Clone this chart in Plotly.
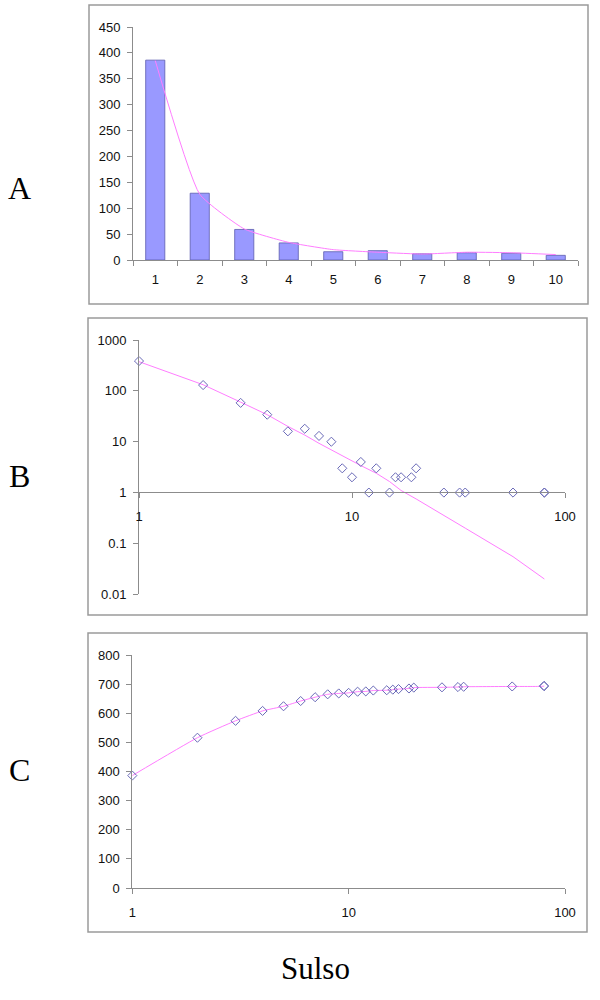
import plotly.graph_objects as go

# ---------------- data ----------------
A_categories = ["1", "2", "3", "4", "5", "6", "7", "8", "9", "10"]
A_counts = [386, 129, 59, 33, 16, 18, 12, 14, 13, 9]
A_trend = [385, 127, 60, 34, 20, 15, 11.5, 15, 14, 10.5]

B_x = [1, 2, 3, 4, 5, 6, 7, 8, 9, 10, 11, 12, 13, 15, 16, 17, 19, 20, 27, 32, 34, 57, 80, 80]
B_y = [386, 130, 58, 34, 16, 18, 13, 10, 3, 2, 4, 1, 3, 1, 2, 2, 2, 3, 1, 1, 1, 1, 1, 1]

B_fit_x = [1, 2, 3, 4, 5, 6, 7, 8, 10, 11, 13, 15, 17, 20, 27, 34, 57, 80]
B_fit_y = [375, 132, 60, 34, 20, 13.5, 9.3, 7, 4.2, 3.4, 2.4, 1.65, 1.1, 0.75, 0.35, 0.2, 0.055, 0.02]

C_x = [1, 2, 3, 4, 5, 6, 7, 8, 9, 10, 11, 12, 13, 15, 16, 17, 19, 20, 27, 32, 34, 57, 80, 80]
C_y = [386, 516, 574, 608, 624, 642, 655, 665, 668, 670, 674, 675, 678, 679, 681, 683, 685, 688,
       689, 690, 691, 692, 693, 694]

B_ticks = [0.01, 0.1, 1, 10, 100, 1000]
B_ticktext = ["0.01", "0.1", "1", "10", "100", "1000"]
X_log_ticks = [1, 10, 100]
panel_letters = ["A", "B", "C"]
x_title = "Sulso"

# ---------------- styles ----------------
BAR = "#9999ff"
BAR_LINE = "#5c5cae"
PINK = "#ff7dff"
MARK = "#6a6ab8"
AXIS = "#8c8c8c"
TICKFONT = dict(family="Liberation Sans, Arial, sans-serif", size=13, color="#111")

W, H = 600, 1000


def px(x):
    return x / W


def py(y):
    return 1 - y / H


fig = go.Figure()

# Panel A
fig.add_trace(go.Bar(x=A_categories, y=A_counts, marker=dict(color=BAR, line=dict(color=BAR_LINE, width=0.8)),
                     xaxis="x", yaxis="y", showlegend=False))
fig.add_trace(go.Scatter(x=A_categories, y=A_trend, mode="lines",
                         line=dict(color=PINK, width=1, shape="spline", smoothing=0.45),
                         xaxis="x", yaxis="y", showlegend=False))

# Panel B
fig.add_trace(go.Scatter(x=B_fit_x, y=B_fit_y, mode="lines", line=dict(color=PINK, width=1),
                         xaxis="x2", yaxis="y2", showlegend=False))
fig.add_trace(go.Scatter(x=B_x, y=B_y, mode="markers",
                         marker=dict(symbol="diamond-open", size=7, color=MARK, line=dict(width=1)),
                         xaxis="x2", yaxis="y2", showlegend=False, cliponaxis=False))

# Panel C
fig.add_trace(go.Scatter(x=C_x, y=C_y, mode="lines+markers",
                         line=dict(color=PINK, width=1, shape="spline", smoothing=0.5),
                         marker=dict(symbol="diamond-open", size=7, color=MARK, line=dict(width=1)),
                         xaxis="x3", yaxis="y3", showlegend=False, cliponaxis=False))

common = dict(showgrid=False, zeroline=False, showline=True, linecolor=AXIS, linewidth=1,
              ticks="outside", ticklen=5, tickcolor=AXIS, tickfont=TICKFONT, automargin=False)

fig.update_layout(
    width=W, height=H,
    margin=dict(l=0, r=0, t=0, b=0, pad=0, autoexpand=False),
    paper_bgcolor="white", plot_bgcolor="white",
    bargap=0.57,
    showlegend=False,
    xaxis=dict(domain=[px(133), px(578)], anchor="y", type="category", tickson="boundaries",
               ticklabelstandoff=7, **common),
    yaxis=dict(domain=[py(260), py(27)], anchor="x", range=[0, 450], dtick=50,
               ticklabelstandoff=4, **common),
    xaxis2=dict(domain=[px(139), px(565)], anchor="free", position=py(492.3), type="log",
                range=[0, 2], tickvals=X_log_ticks, ticktext=["1", "10", "100"],
                ticklabelstandoff=7, **common),
    yaxis2=dict(domain=[py(594.3), py(340)], anchor="x2", type="log", range=[-2, 3],
                tickvals=B_ticks, ticktext=B_ticktext, ticklabelstandoff=4, **common),
    xaxis3=dict(domain=[px(132.3), px(565)], anchor="y3", type="log", range=[0, 2],
                tickvals=X_log_ticks, ticktext=["1", "10", "100"], ticklabelstandoff=7, **common),
    yaxis3=dict(domain=[py(888), py(655)], anchor="x3", range=[0, 800], dtick=100,
                ticklabelstandoff=4, **common),
)

# frames around each panel
for (x0, y0, x1, y1) in [(89, 5, 588, 304), (88, 318, 587, 615), (88, 633, 587, 932)]:
    fig.add_shape(type="rect", xref="paper", yref="paper",
                  x0=px(x0), x1=px(x1), y0=py(y1), y1=py(y0),
                  line=dict(color="#9a9a9a", width=1.5), fillcolor="rgba(0,0,0,0)", layer="below")

serif = "Liberation Serif, Times New Roman, serif"
for letter, yc in zip(panel_letters, [188, 476, 770]):
    fig.add_annotation(text=letter, xref="paper", yref="paper", x=px(19.5), y=py(yc),
                       showarrow=False, font=dict(family=serif, size=32, color="black"),
                       xanchor="center", yanchor="middle")

fig.add_annotation(text=x_title, xref="paper", yref="paper", x=px(315), y=py(968),
                   showarrow=False, font=dict(family=serif, size=31, color="black"),
                   xanchor="center", yanchor="middle")

fig.write_html(
    "out.html",
    config={"displayModeBar": False},
    post_script="document.body.style.margin='0';document.body.style.overflow='hidden';",
)
